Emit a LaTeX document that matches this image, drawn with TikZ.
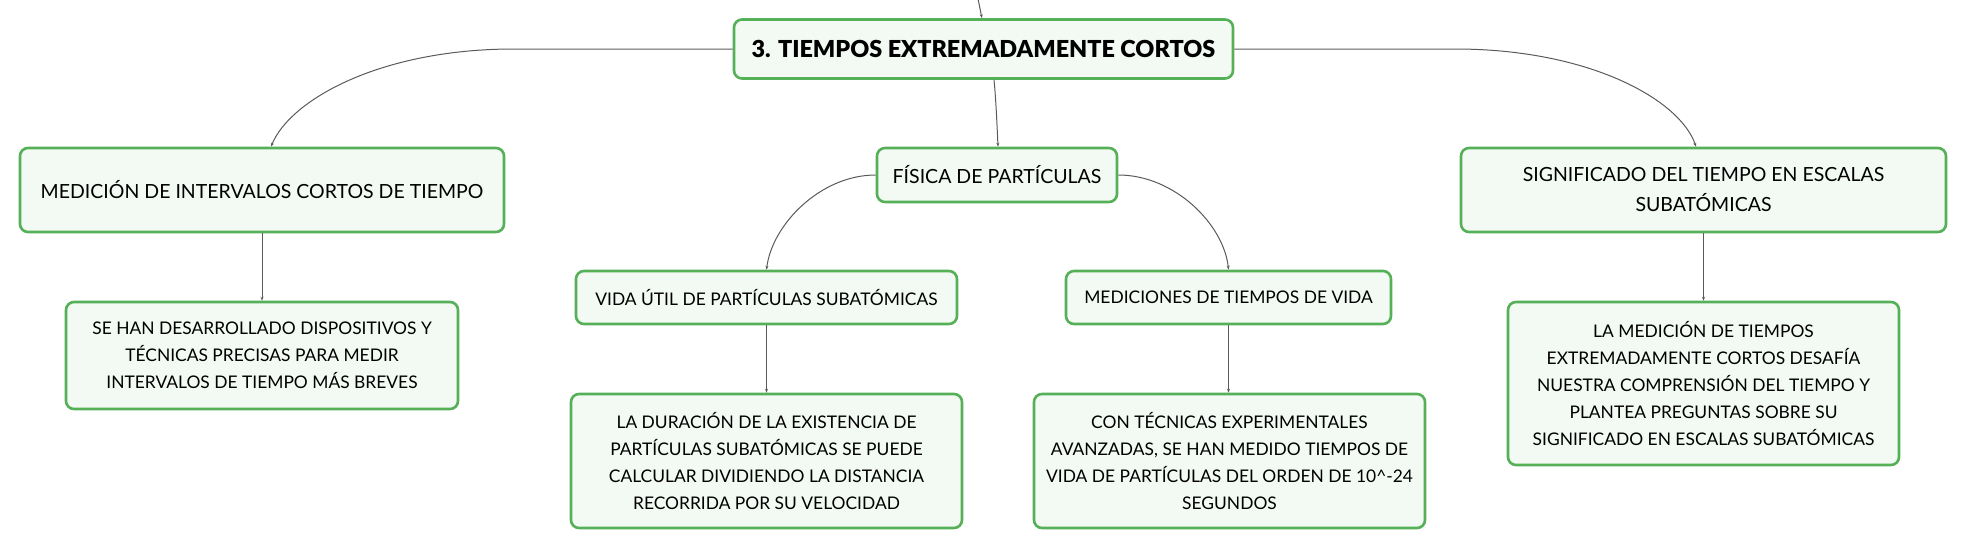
\documentclass[tikz,border=0pt]{standalone}
\usepackage{fontspec}
\setmainfont{Lato}
\newfontfamily\titlefont{Lato}[UprightFont={* Black}]
\usetikzlibrary{arrows.meta,calc}
\definecolor{boxgreen}{HTML}{55B058}
\definecolor{boxfill}{HTML}{F2FAF3}
\definecolor{linegray}{HTML}{5A5A5A}
\tikzset{
  mbox/.style={draw=boxgreen, fill=boxfill, line width=2.6pt, rounded corners=8pt,
    inner sep=0pt, align=center, text=black},
  bigtxt/.style={font=\fontsize{19.5}{29}\selectfont},
  smalltxt/.style={font=\fontsize{17.4}{26.8}\selectfont},
  conn/.style={draw=linegray, line width=1pt, -{Stealth[length=4pt,width=3pt]}},
}
\begin{document}
\begin{tikzpicture}[x=1pt,y=-1pt]
\useasboundingbox (0,0) rectangle (1967,549);
% nodes
\node[mbox, minimum width=499pt, minimum height=59pt, font=\titlefont\fontsize{23.4}{27}\selectfont] (title) at (983.5,49) {3. TIEMPOS EXTREMADAMENTE CORTOS};
\node[mbox, bigtxt, minimum width=484pt, minimum height=84pt] (med) at (262,190) {MEDICIÓN DE INTERVALOS CORTOS DE TIEMPO};
\node[mbox, smalltxt, minimum width=392pt, minimum height=107pt] (sehan) at (262,355.5) {SE HAN DESARROLLADO DISPOSITIVOS Y\\TÉCNICAS PRECISAS PARA MEDIR\\INTERVALOS DE TIEMPO MÁS BREVES};
\node[mbox, bigtxt, minimum width=240pt, minimum height=54pt] (fis) at (997,175) {FÍSICA DE PARTÍCULAS};
\node[mbox, smalltxt, minimum width=381pt, minimum height=53pt] (vida) at (766.5,297.5) {VIDA ÚTIL DE PARTÍCULAS SUBATÓMICAS};
\node[mbox, smalltxt, minimum width=325pt, minimum height=53pt] (medic) at (1228.5,297.5) {MEDICIONES DE TIEMPOS DE VIDA};
\node[mbox, smalltxt, minimum width=391pt, minimum height=134pt] (dur) at (766.5,461) {LA DURACIÓN DE LA EXISTENCIA DE\\PARTÍCULAS SUBATÓMICAS SE PUEDE\\CALCULAR DIVIDIENDO LA DISTANCIA\\RECORRIDA POR SU VELOCIDAD};
\node[mbox, smalltxt, minimum width=391pt, minimum height=134pt] (con) at (1229.5,461) {CON TÉCNICAS EXPERIMENTALES\\AVANZADAS, SE HAN MEDIDO TIEMPOS DE\\VIDA DE PARTÍCULAS DEL ORDEN DE 10\^{}-24\\SEGUNDOS};
\node[mbox, minimum width=485pt, minimum height=84pt, font=\fontsize{19.5}{30}\selectfont] (sig) at (1703.5,190) {SIGNIFICADO DEL TIEMPO EN ESCALAS\\SUBATÓMICAS};
\node[mbox, smalltxt, minimum width=391pt, minimum height=163pt] (lamed) at (1703.5,383.5) {LA MEDICIÓN DE TIEMPOS\\EXTREMADAMENTE CORTOS DESAFÍA\\NUESTRA COMPRENSIÓN DEL TIEMPO Y\\PLANTEA PREGUNTAS SOBRE SU\\SIGNIFICADO EN ESCALAS SUBATÓMICAS};
% connectors
\coordinate (topin) at (978,-1);
\coordinate (lt) at (514,49);
\coordinate (rt) at (1455,49);
\draw[conn] (topin) .. controls (980,8) and (981,14) .. ($(title.north)+(-1.5,0)$);
\draw[conn] (title.west) -- (lt) .. controls (380,49) and (290,100) .. ($(med.north)+(9,0)$);
\draw[conn] (title.east) -- (rt) .. controls (1590,49) and (1680,100) .. ($(sig.north)+(-7.5,0)$);
\draw[conn] ($(title.south)+(10.5,0)$) .. controls (996,100) and (997,125) .. ($(fis.north)+(1,0)$);
\draw[conn] (fis.west) .. controls (820,175) and (772,225) .. (vida.north);
\draw[conn] (fis.east) .. controls (1175,175) and (1224,225) .. (medic.north);
\draw[conn] (med.south) -- (sehan.north);
\draw[conn] (vida.south) -- (dur.north);
\draw[conn] (medic.south) -- (medic.south |- con.north);
\draw[conn] (sig.south) -- (lamed.north);
\end{tikzpicture}
\end{document}
